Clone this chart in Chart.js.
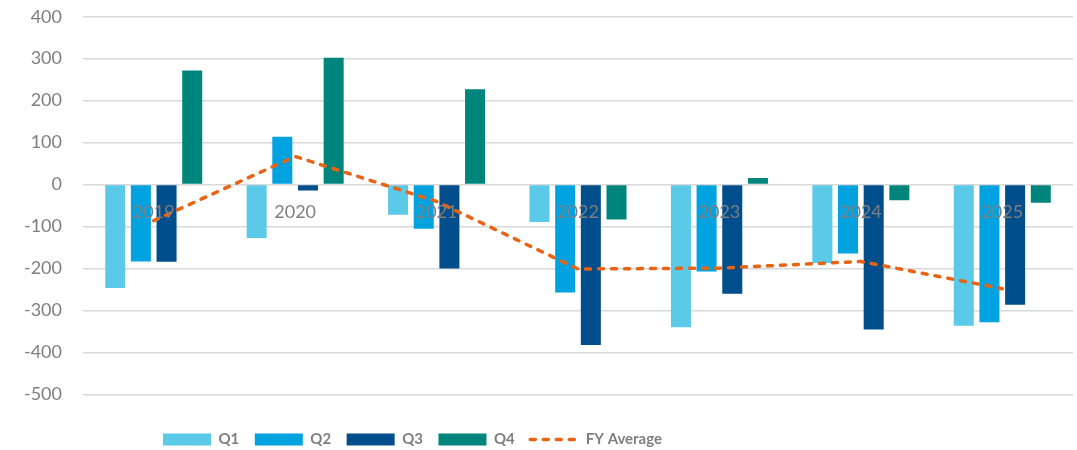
<!DOCTYPE html>
<html>
<head>
<meta charset="utf-8">
<script src="https://cdn.jsdelivr.net/npm/chart.js@4/dist/chart.umd.min.js"></script>
<style>
  html, body { margin: 0; padding: 0; background: #ffffff; }
  #wrap { width: 1077px; height: 450px; position: relative; }
</style>
</head>
<body>
<div id="wrap"><canvas id="chart"></canvas></div>
<script>
// Fiscal years shown on the category axis
const years = ['2019', '2020', '2021', '2022', '2023', '2024', '2025'];

// Quarterly values per fiscal year
const q1 = [-246, -127, -72, -89, -340, -187, -336];
const q2 = [-183, 114, -105, -257, -207, -164, -328];
const q3 = [-184, -14, -200, -382, -260, -345, -286];
const q4 = [272, 302, 227, -83, 16, -37, -43];

// Full-year average line
const fyAverage = [-86, 67, -40, -201, -199, -183, -248];

// Value axis range and step
const yMin = -500;
const yMax = 400;
const yStep = 100;

const grey = '#7f7f7f';
const tickFont = { family: 'Lato', size: 18 };
const legendFontSize = 15;

// Moves the legend row to its place under the plot
const legendPlacer = {
  id: 'legendPlacer',
  afterLayout(chart) {
    const lg = chart.legend;
    if (!lg) return;
    const pad = lg.options.labels.padding;
    const h = lg.bottom - lg.top;
    lg.left = 163 - pad;
    lg.top = 439.5 - pad - legendFontSize / 2;
    lg.bottom = lg.top + h;
  }
};

new Chart(document.getElementById('chart'), {
  type: 'bar',
  data: {
    labels: years,
    datasets: [
      { label: 'Q1', data: q1, backgroundColor: '#5bc9e8', order: 1 },
      { label: 'Q2', data: q2, backgroundColor: '#00a3e0', order: 1 },
      { label: 'Q3', data: q3, backgroundColor: '#004e8c', order: 1 },
      { label: 'Q4', data: q4, backgroundColor: '#00857c', order: 1 },
      {
        type: 'line',
        label: 'FY Average',
        data: fyAverage,
        borderColor: '#e86414',
        backgroundColor: '#e86414',
        borderWidth: 3.5,
        borderDash: [5, 8],
        borderCapStyle: 'round',
        pointRadius: 0,
        pointHoverRadius: 0,
        tension: 0,
        fill: false,
        order: 0
      }
    ]
  },
  options: {
    responsive: true,
    maintainAspectRatio: false,
    animation: false,
    layout: { padding: { top: 16.7, right: 4, bottom: 15, left: 0 } },
    datasets: {
      bar: { categoryPercentage: 0.726, barPercentage: 0.78 }
    },
    scales: {
      x: {
        position: { y: 0 },
        grid: { display: false, drawTicks: false },
        border: { display: false },
        ticks: { color: grey, font: tickFont, padding: 17, maxRotation: 0, z: 1 },
        afterFit(scale) { scale.height = 0; }
      },
      y: {
        min: yMin,
        max: yMax,
        grid: { color: '#d9d9d9', lineWidth: 1.5, drawTicks: false },
        border: { display: false },
        ticks: { stepSize: yStep, color: grey, font: tickFont, padding: 21 },
        afterFit(scale) {
          scale.width = 83;
          scale.paddingTop = 10;
          scale.paddingBottom = 10;
        }
      }
    },
    plugins: {
      tooltip: { enabled: false },
      legend: {
        position: 'bottom',
        align: 'start',
        labels: {
          usePointStyle: true,
          pointStyleWidth: 48,
          boxWidth: 48,
          boxHeight: 12,
          padding: 15.5,
          color: grey,
          font: { family: 'Lato', size: legendFontSize, weight: 'bold' },
          sort: (a, b) => a.datasetIndex - b.datasetIndex,
          generateLabels(chart) {
            const items = Chart.defaults.plugins.legend.labels.generateLabels(chart);
            items.forEach(it => {
              const ds = chart.data.datasets[it.datasetIndex];
              if (ds.type === 'line') {
                it.pointStyle = 'line';
                it.lineDash = ds.borderDash;
                it.lineWidth = ds.borderWidth;
                it.lineCap = ds.borderCapStyle;
                it.strokeStyle = ds.borderColor;
              } else {
                it.pointStyle = 'rect';
                it.lineWidth = 0;
              }
            });
            return items;
          }
        }
      }
    }
  },
  plugins: [legendPlacer]
});
</script>
</body>
</html>
